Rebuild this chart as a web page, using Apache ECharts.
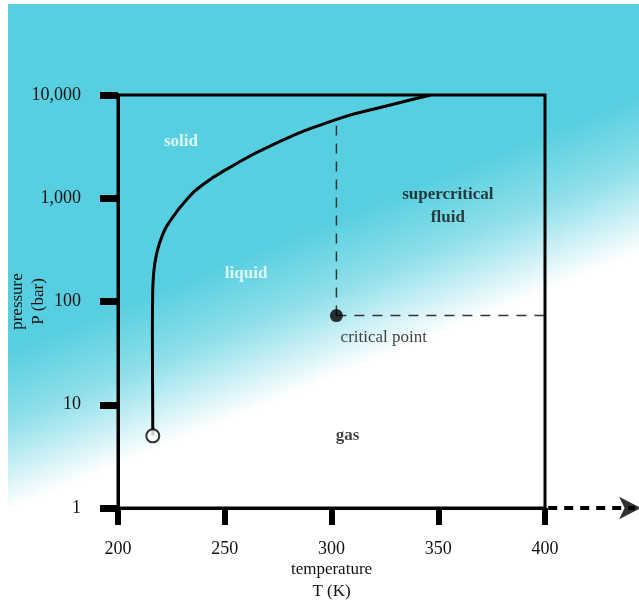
<!DOCTYPE html>
<html>
<head>
<meta charset="utf-8">
<script src="https://cdn.jsdelivr.net/npm/echarts@6/dist/echarts.min.js"></script>
<style>
	html,body{margin:0;padding:0;background:#fff;}
	#phaseChart{width:639px;height:601px;}
</style>
</head>
<body>
<div id="phaseChart"></div>
<script>
// 温度轴刻度 (K)
var tempTicks = [200, 250, 300, 350, 400];
// 压力轴刻度 (bar)
var pressTicks = [1, 10, 100, 1000, 10000];
// 固液/固气边界线 [T, P]
var boundaryCurve = [
	[216.3, 5.0], [216.1, 42.8], [216.2, 105], [216.6, 176], [218.2, 297],
	[221.3, 464], [224.4, 602], [232.3, 978], [240, 1368], [251, 1913],
	[271.4, 3220], [302.7, 5848], [326.2, 7870], [346.5, 10000]
];
// 三相点
var triplePoint = [216.3, 5.0];
// 临界点
var criticalPoint = [302.3, 73];
// 临界点上方与曲线交点
var criticalTop = [302.3, 5700];
// 横轴延伸箭头
var axisArrow = [[401.5, 1], [445, 1]];
// 区域标签 [文字, T, P, 颜色, 粗细]
var regionLabels = [
	['solid', 229.5, 3500, '#ffffff', 'bold'],
	['liquid', 260, 188, '#ffffff', 'bold'],
	['supercritical\nfluid', 354.5, 840, '#111111', 'bold'],
	['critical point', 324.5, 45, '#111111', 'normal'],
	['gas', 307.5, 5.0, '#111111', 'bold']
];

var serif = '"Liberation Serif", "DejaVu Serif", serif';

function fmtNum(v){
	return String(v).replace(/\B(?=(\d{3})+(?!\d))/g, ',');
}

function $each(arr, fn){
	for(var i = 0; i < arr.length; i++){ fn(arr[i], i); }
}

// 虚线延伸段 (custom 系列, 不裁剪)
function renderArrowLine(params, api){
	var p0 = api.coord([api.value(0), api.value(1)]);
	var p1 = api.coord([api.value(2), api.value(3)]);
	return {
		type: 'line',
		shape: {x1: p0[0], y1: p0[1], x2: p1[0] - 6, y2: p1[1]},
		style: {stroke: '#000', lineWidth: 4, lineDash: [9, 7]}
	};
}

function initChart(){
	var chart = echarts.init(document.getElementById('phaseChart'));

	var labelData = [];
	$each(regionLabels, function(o){
		labelData.push({
			value: [o[1], o[2]],
			label: {show: true, formatter: o[0], color: o[3], fontWeight: o[4],
				fontSize: 17, fontFamily: serif, lineHeight: 23}
		});
	});

	var option = {
		animation: false,
		graphic: [{
			type: 'rect',
			z: -10,
			silent: true,
			shape: {x: 8, y: 4, width: 631, height: 597},
			style: {
				fill: new echarts.graphic.LinearGradient(125, 305, 180, 440, [
					{offset: 0, color: '#57cfe0'},
					{offset: 0.45, color: '#8fdfea'},
					{offset: 1, color: '#ffffff'}
				], true)
			}
		}],
		grid: {
			left: 118, right: 94, top: 95, bottom: 93,
			outerBoundsMode: 'none',
			containLabel: false,
			show: true, borderColor: '#000', borderWidth: 3,
			backgroundColor: 'transparent'
		},
		xAxis: {
			type: 'value',
			min: 200, max: 400, interval: 50,
			name: 'temperature\nT (K)',
			nameLocation: 'middle',
			nameGap: 51,
			nameMoveOverlap: false,
			nameTextStyle: {fontFamily: serif, fontSize: 17, color: '#111', lineHeight: 22},
			axisLine: {show: true, lineStyle: {color: '#000', width: 3}},
			axisTick: {show: true, length: 17, inside: false, lineStyle: {color: '#000', width: 6}},
			axisLabel: {margin: 32, fontFamily: serif, fontSize: 18, color: '#111'},
			splitLine: {show: false}
		},
		yAxis: {
			type: 'log',
			logBase: 10,
			min: 1, max: 10000,
			name: 'pressure\nP (bar)',
			nameLocation: 'middle',
			nameGap: 69,
			nameRotate: 90,
			nameMoveOverlap: false,
			nameTextStyle: {fontFamily: serif, fontSize: 17, color: '#111', lineHeight: 21},
			axisLine: {show: true, lineStyle: {color: '#000', width: 3}},
			axisTick: {show: true, length: 18, inside: false, lineStyle: {color: '#000', width: 7}},
			axisLabel: {margin: 37, fontFamily: serif, fontSize: 18, color: '#111',
				formatter: function(v){ return fmtNum(v); }},
			splitLine: {show: false},
			minorTick: {show: false}
		},
		series: [
			{
				name: 'boundary',
				type: 'line',
				data: boundaryCurve,
				smooth: 0.5,
				showSymbol: false,
				lineStyle: {color: '#000', width: 3},
				z: 5
			},
			{
				name: 'critical-v',
				type: 'line',
				data: [criticalPoint, criticalTop],
				showSymbol: false,
				lineStyle: {color: '#333', width: 1.5, type: [10, 8]},
				z: 4
			},
			{
				name: 'critical-h',
				type: 'line',
				data: [criticalPoint, [400, criticalPoint[1]]],
				showSymbol: false,
				lineStyle: {color: '#333', width: 1.5, type: [10, 8]},
				z: 4
			},
			{
				name: 'points',
				type: 'scatter',
				data: [
					{value: triplePoint, symbolSize: 13,
						itemStyle: {color: '#fff', borderColor: '#000', borderWidth: 2}},
					{value: criticalPoint, symbolSize: 13, itemStyle: {color: '#000'}}
				],
				z: 10
			},
			{
				name: 'arrow-line',
				type: 'custom',
				clip: false,
				renderItem: renderArrowLine,
				data: [[axisArrow[0][0], axisArrow[0][1], axisArrow[1][0], axisArrow[1][1]]],
				encode: {x: [0, 2], y: [1, 3]},
				z: 6
			},
			{
				name: 'arrow-head',
				type: 'scatter',
				clip: false,
				data: [{value: axisArrow[1], symbol: 'arrow', symbolSize: [17, 22], symbolRotate: -90}],
				itemStyle: {color: '#000'},
				z: 7
			},
			{
				name: 'labels',
				type: 'scatter',
				symbolSize: 0,
				data: labelData,
				label: {position: 'inside'},
				z: 12
			}
		]
	};
	chart.setOption(option);
}

initChart();
</script>
</body>
</html>
